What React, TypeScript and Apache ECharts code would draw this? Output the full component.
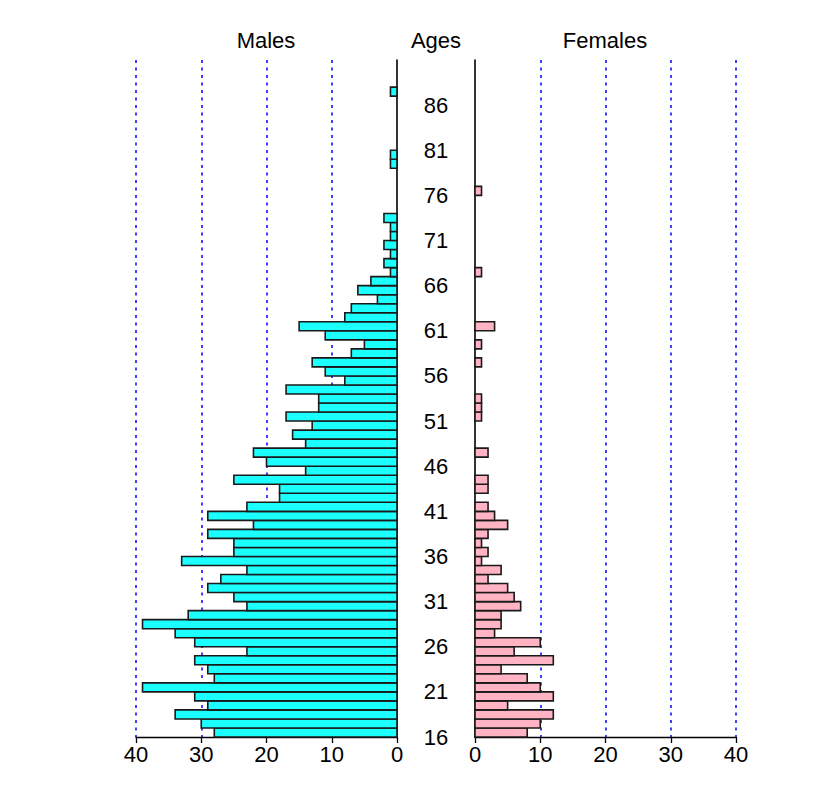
import React, { useEffect, useRef } from "react";
import * as echarts from "echarts";

// Ages 16..87 (one bar per age)
const ages = [
  16, 17, 18, 19, 20, 21, 22, 23, 24, 25, 26, 27, 28, 29, 30, 31, 32, 33, 34, 35,
  36, 37, 38, 39, 40, 41, 42, 43, 44, 45, 46, 47, 48, 49, 50, 51, 52, 53, 54, 55,
  56, 57, 58, 59, 60, 61, 62, 63, 64, 65, 66, 67, 68, 69, 70, 71, 72, 73, 74, 75,
  76, 77, 78, 79, 80, 81, 82, 83, 84, 85, 86, 87,
];

const males = [
  28, 30, 34, 29, 31, 39, 28, 29, 31, 23, 31, 34, 39, 32, 23, 25, 29, 27, 23, 33,
  25, 25, 29, 22, 29, 23, 18, 18, 25, 14, 20, 22, 14, 16, 13, 17, 12, 12, 17, 8,
  11, 13, 7, 5, 11, 15, 8, 7, 3, 6, 4, 1, 2, 1, 2, 1, 1, 2, 0, 0,
  0, 0, 0, 1, 1, 0, 0, 0, 0, 0, 0, 1,
];

const females = [
  8, 10, 12, 5, 12, 10, 8, 4, 12, 6, 10, 3, 4, 4, 7, 6, 5, 2, 4, 1,
  2, 1, 2, 5, 3, 2, 0, 2, 2, 0, 0, 2, 0, 0, 0, 1, 1, 1, 0, 0,
  0, 1, 0, 1, 0, 3, 0, 0, 0, 0, 0, 1, 0, 0, 0, 0, 0, 0, 0, 0,
  1, 0, 0, 0, 0, 0, 0, 0, 0, 0, 0, 0,
];

const ageTicks = [16, 21, 26, 31, 36, 41, 46, 51, 56, 61, 66, 71, 76, 81, 86];

const FONT = "'Liberation Sans', Arial, sans-serif";
const MALE_COLOR = "#1cffff";
const FEMALE_COLOR = "#ffb3c3";

function makeRender(fill: string) {
  return (params: any, api: any) => {
    const age = api.value(0);
    const v = api.value(1);
    if (!v) return null;
    const p0 = api.coord([0, age]);
    const p1 = api.coord([v, age + 1]);
    return {
      type: "rect",
      shape: {
        x: Math.min(p0[0], p1[0]),
        y: Math.min(p0[1], p1[1]),
        width: Math.abs(p1[0] - p0[0]),
        height: Math.abs(p1[1] - p0[1]),
      },
      style: { fill, stroke: "#1a1a1a", lineWidth: 1.6 },
    };
  };
}

export default function App() {
  const ref = useRef<HTMLDivElement>(null);
  useEffect(() => {
    if (!ref.current) return;
    const chart = echarts.init(ref.current, undefined, { renderer: "svg" });
    const xAxisCommon = {
      type: "value",
      min: 0,
      max: 40,
      interval: 10,
      axisLine: { show: true, lineStyle: { color: "#000", width: 1.3 } },
      axisTick: { show: true, length: 6, lineStyle: { color: "#000", width: 1.3 } },
      axisLabel: { color: "#000", fontSize: 22, fontFamily: FONT, margin: 6 },
      splitLine: {
        show: true,
        showMinLine: false,
        lineStyle: { color: "#0000ff", type: [3, 4.5], width: 1.5 },
      },
    };
    const yAxisCommon = {
      type: "value",
      min: 16,
      max: 91,
      axisLine: { show: true, onZero: false, lineStyle: { color: "#000", width: 1.6 } },
      axisTick: { show: false },
      splitLine: { show: false },
    };
    chart.setOption({
      animation: false,
      backgroundColor: "#fff",
      grid: [
        { left: 136, right: 421, top: 60, bottom: 63 },
        { left: 475, right: 82, top: 60, bottom: 63 },
      ],
      xAxis: [
        { ...xAxisCommon, gridIndex: 0, inverse: true },
        { ...xAxisCommon, gridIndex: 1 },
      ],
      yAxis: [
        {
          ...yAxisCommon,
          gridIndex: 0,
          position: "right",
          axisLabel: {
            show: true,
            customValues: ageTicks,
            color: "#000",
            fontSize: 22,
            fontFamily: FONT,
            align: "center",
            margin: 39,
          },
        },
        {
          ...yAxisCommon,
          gridIndex: 1,
          position: "left",
          axisLabel: { show: false },
        },
      ],
      graphic: [
        { type: "text", x: 266, y: 40, style: { text: "Males", font: `22px ${FONT}`, fill: "#000", textAlign: "center", textVerticalAlign: "middle" } },
        { type: "text", x: 436, y: 40, style: { text: "Ages", font: `22px ${FONT}`, fill: "#000", textAlign: "center", textVerticalAlign: "middle" } },
        { type: "text", x: 605, y: 40, style: { text: "Females", font: `22px ${FONT}`, fill: "#000", textAlign: "center", textVerticalAlign: "middle" } },
      ],
      series: [
        {
          type: "custom",
          name: "Males",
          xAxisIndex: 0,
          yAxisIndex: 0,
          encode: { x: 1, y: 0 },
          renderItem: makeRender(MALE_COLOR),
          data: ages.map((a, i) => [a, males[i]]),
        },
        {
          type: "custom",
          name: "Females",
          xAxisIndex: 1,
          yAxisIndex: 1,
          encode: { x: 1, y: 0 },
          renderItem: makeRender(FEMALE_COLOR),
          data: ages.map((a, i) => [a, females[i]]),
        },
      ],
    });
    return () => chart.dispose();
  }, []);
  return (
    <div
      ref={ref}
      style={{ position: "absolute", left: 0, top: 0, width: 818, height: 800 }}
    />
  );
}
